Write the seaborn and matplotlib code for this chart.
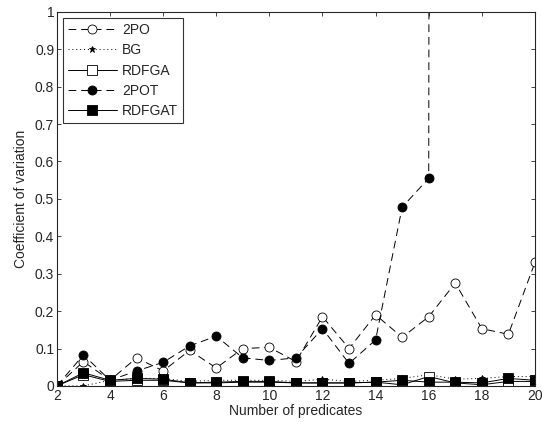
import matplotlib
matplotlib.use("Agg")
import matplotlib.pyplot as plt
import seaborn as sns
import pandas as pd
import numpy as np

predicates = list(range(2, 21))
cv_2po =    [0.0, 0.065, 0.015, 0.075, 0.040, 0.095, 0.048, 0.100, 0.103, 0.065,
             0.185, 0.100, 0.190, 0.130, 0.185, 0.275, 0.153, 0.138, 0.330]
cv_bg =     [0.0, 0.0, 0.015, 0.020, 0.020, 0.012, 0.015, 0.015, 0.015, 0.012,
             0.018, 0.012, 0.015, 0.020, 0.030, 0.018, 0.020, 0.025, 0.025]
cv_rdfga =  [0.0, 0.030, 0.012, 0.015, 0.015, 0.008, 0.008, 0.010, 0.010, 0.008,
             0.008, 0.008, 0.010, 0.003, 0.025, 0.008, 0.003, 0.012, 0.012]
cv_2pot =   [0.0, 0.083, 0.015, 0.040, 0.063, 0.107, 0.133, 0.075, 0.068, 0.075,
             0.153, 0.060, 0.123, 0.478, 0.555, 60.0, 55.0, 70.0, 65.0]
cv_rdfgat = [0.0, 0.035, 0.015, 0.020, 0.018, 0.008, 0.010, 0.012, 0.012, 0.008,
             0.008, 0.008, 0.010, 0.015, 0.010, 0.010, 0.008, 0.020, 0.015]

names = ["2PO", "BG", "RDFGA", "2POT", "RDFGAT"]
values = [cv_2po, cv_bg, cv_rdfga, cv_2pot, cv_rdfgat]

sns.set_style("ticks")
plt.rcParams['font.family'] = ['Liberation Sans', 'DejaVu Sans']
plt.rcParams['font.size'] = 10

fig = plt.figure(figsize=(5.42, 4.25), dpi=100)
ax = fig.add_axes([0.105, 0.092, 0.882, 0.880])

dash = (0, (8, 5))
styles = {
    "2PO":    dict(linestyle=dash, marker="o", mfc="white", mec="black"),
    "BG":     dict(linestyle=(0, (1, 3)), marker="*", mfc="black", mec="black", ms=4.5),
    "RDFGA":  dict(linestyle="-", marker="s", mfc="white", mec="black"),
    "2POT":   dict(linestyle=dash, marker="o", mfc="black", mec="black"),
    "RDFGAT": dict(linestyle="-", marker="s", mfc="black", mec="black"),
}

for name, vals in zip(names, values):
    df = pd.DataFrame({"x": predicates, "y": vals})
    st = dict(styles[name])
    ms = st.pop("ms", 6.5)
    sns.lineplot(data=df, x="x", y="y", ax=ax, color="black", linewidth=0.7,
                 markersize=ms, markeredgewidth=0.6, label=name, **st)

ax.set_xlim(2, 20)
ax.set_ylim(0, 1)
ax.set_xticks(range(2, 21, 2))
ax.set_yticks(np.arange(0, 1.01, 0.1))
ax.set_yticklabels(["0"] + [f"{v:.1f}" for v in np.arange(0.1, 0.95, 0.1)] + ["1"])
ax.tick_params(direction="in", length=3, width=0.6, labelsize=10, pad=2,
               top=True, right=True)
for s in ax.spines.values():
    s.set_visible(True)
    s.set_linewidth(0.8)
ax.set_xlabel("Number of predicates", fontsize=10, labelpad=1)
ax.set_ylabel("Coefficient of variation", fontsize=10, labelpad=5)

leg = ax.legend(loc="upper left", fontsize=10, handlelength=3.5, frameon=True,
                fancybox=False, edgecolor="black", borderaxespad=0.45,
                labelspacing=0.45, handletextpad=0.4, borderpad=0.35)
leg.get_frame().set_linewidth(0.8)

fig.savefig("out.png", dpi=100)
